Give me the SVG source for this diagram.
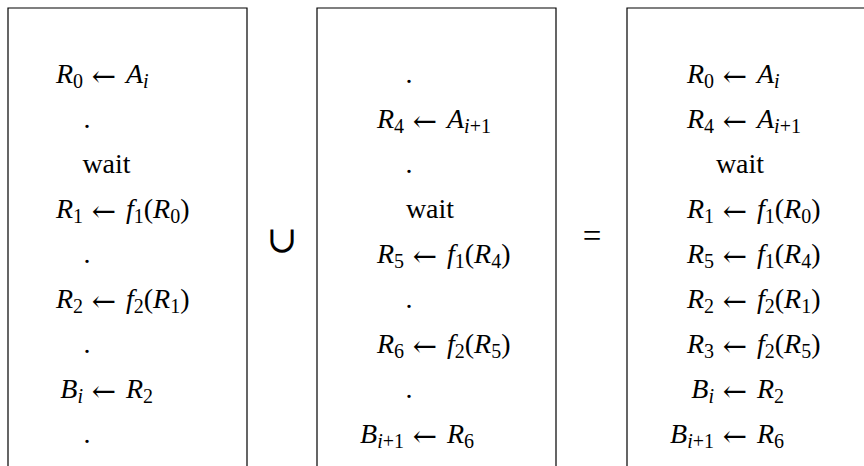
<svg xmlns="http://www.w3.org/2000/svg" width="864" height="466" viewBox="0 0 864 466">
<style>
text{font-family:'Liberation Serif','Times New Roman',serif;font-size:28px;fill:#000}
.l{text-anchor:end}
.c{text-anchor:middle}
.a{text-anchor:middle;font-family:'DejaVu Serif',serif;font-size:29px}
.i{font-style:italic}
.s{font-size:20px}
.u{text-anchor:middle;font-family:'DejaVu Serif',serif;font-size:37px}
.e{text-anchor:middle;font-size:33px}
.frame{fill:none;stroke:#000;stroke-width:1.2}
</style>
<defs>
<path id="frame" d="M0,458V0H239V458"/>
</defs>
<g id="connectors"/>
<g id="box1">
<use href="#frame" class="frame" x="8" y="8"/>
<text class="l" x="83" y="83"><tspan class="i">R</tspan><tspan class="s" dy="5">0</tspan></text>
<text class="a" x="104" y="86">←</text>
<text x="126" y="83"><tspan class="i">A</tspan><tspan class="s i" dy="5">i</tspan></text>
<text class="c" x="87" y="128">.</text>
<text class="c" x="106.5" y="173">wait</text>
<text class="l" x="83" y="218"><tspan class="i">R</tspan><tspan class="s" dy="5">1</tspan></text>
<text class="a" x="104" y="221">←</text>
<text x="126" y="218"><tspan class="i">f</tspan><tspan class="s" dy="5">1</tspan><tspan dy="-5">(</tspan><tspan class="i">R</tspan><tspan class="s" dy="5">0</tspan><tspan dy="-5">)</tspan></text>
<text class="c" x="87" y="263">.</text>
<text class="l" x="83" y="308"><tspan class="i">R</tspan><tspan class="s" dy="5">2</tspan></text>
<text class="a" x="104" y="311">←</text>
<text x="126" y="308"><tspan class="i">f</tspan><tspan class="s" dy="5">2</tspan><tspan dy="-5">(</tspan><tspan class="i">R</tspan><tspan class="s" dy="5">1</tspan><tspan dy="-5">)</tspan></text>
<text class="c" x="87" y="353">.</text>
<text class="l" x="83" y="398"><tspan class="i">B</tspan><tspan class="s i" dy="5">i</tspan></text>
<text class="a" x="104" y="401">←</text>
<text x="126" y="398"><tspan class="i">R</tspan><tspan class="s" dy="5">2</tspan></text>
<text class="c" x="87" y="443">.</text>
</g>
<g id="union">
<text class="u" x="282" y="252">∪</text>
</g>
<g id="box2">
<use href="#frame" class="frame" x="317" y="8"/>
<text class="c" x="409" y="83">.</text>
<text class="l" x="404" y="128"><tspan class="i">R</tspan><tspan class="s" dy="5">4</tspan></text>
<text class="a" x="425" y="131">←</text>
<text x="447" y="128"><tspan class="i">A</tspan><tspan class="s i" dy="5">i</tspan><tspan class="s">+1</tspan></text>
<text class="c" x="409" y="173">.</text>
<text class="c" x="430" y="218">wait</text>
<text class="l" x="404" y="263"><tspan class="i">R</tspan><tspan class="s" dy="5">5</tspan></text>
<text class="a" x="425" y="266">←</text>
<text x="447" y="263"><tspan class="i">f</tspan><tspan class="s" dy="5">1</tspan><tspan dy="-5">(</tspan><tspan class="i">R</tspan><tspan class="s" dy="5">4</tspan><tspan dy="-5">)</tspan></text>
<text class="c" x="409" y="308">.</text>
<text class="l" x="404" y="353"><tspan class="i">R</tspan><tspan class="s" dy="5">6</tspan></text>
<text class="a" x="425" y="356">←</text>
<text x="447" y="353"><tspan class="i">f</tspan><tspan class="s" dy="5">2</tspan><tspan dy="-5">(</tspan><tspan class="i">R</tspan><tspan class="s" dy="5">5</tspan><tspan dy="-5">)</tspan></text>
<text class="c" x="409" y="398">.</text>
<text class="l" x="404" y="443"><tspan class="i">B</tspan><tspan class="s i" dy="5">i</tspan><tspan class="s">+1</tspan></text>
<text class="a" x="425" y="446">←</text>
<text x="447" y="443"><tspan class="i">R</tspan><tspan class="s" dy="5">6</tspan></text>
</g>
<g id="equals">
<text class="e" x="592" y="247">=</text>
</g>
<g id="box3">
<use href="#frame" class="frame" x="627" y="8"/>
<text class="l" x="714" y="83"><tspan class="i">R</tspan><tspan class="s" dy="5">0</tspan></text>
<text class="a" x="735" y="86">←</text>
<text x="757" y="83"><tspan class="i">A</tspan><tspan class="s i" dy="5">i</tspan></text>
<text class="l" x="714" y="128"><tspan class="i">R</tspan><tspan class="s" dy="5">4</tspan></text>
<text class="a" x="735" y="131">←</text>
<text x="757" y="128"><tspan class="i">A</tspan><tspan class="s i" dy="5">i</tspan><tspan class="s">+1</tspan></text>
<text class="c" x="740" y="173">wait</text>
<text class="l" x="714" y="218"><tspan class="i">R</tspan><tspan class="s" dy="5">1</tspan></text>
<text class="a" x="735" y="221">←</text>
<text x="757" y="218"><tspan class="i">f</tspan><tspan class="s" dy="5">1</tspan><tspan dy="-5">(</tspan><tspan class="i">R</tspan><tspan class="s" dy="5">0</tspan><tspan dy="-5">)</tspan></text>
<text class="l" x="714" y="263"><tspan class="i">R</tspan><tspan class="s" dy="5">5</tspan></text>
<text class="a" x="735" y="266">←</text>
<text x="757" y="263"><tspan class="i">f</tspan><tspan class="s" dy="5">1</tspan><tspan dy="-5">(</tspan><tspan class="i">R</tspan><tspan class="s" dy="5">4</tspan><tspan dy="-5">)</tspan></text>
<text class="l" x="714" y="308"><tspan class="i">R</tspan><tspan class="s" dy="5">2</tspan></text>
<text class="a" x="735" y="311">←</text>
<text x="757" y="308"><tspan class="i">f</tspan><tspan class="s" dy="5">2</tspan><tspan dy="-5">(</tspan><tspan class="i">R</tspan><tspan class="s" dy="5">1</tspan><tspan dy="-5">)</tspan></text>
<text class="l" x="714" y="353"><tspan class="i">R</tspan><tspan class="s" dy="5">3</tspan></text>
<text class="a" x="735" y="356">←</text>
<text x="757" y="353"><tspan class="i">f</tspan><tspan class="s" dy="5">2</tspan><tspan dy="-5">(</tspan><tspan class="i">R</tspan><tspan class="s" dy="5">5</tspan><tspan dy="-5">)</tspan></text>
<text class="l" x="714" y="398"><tspan class="i">B</tspan><tspan class="s i" dy="5">i</tspan></text>
<text class="a" x="735" y="401">←</text>
<text x="757" y="398"><tspan class="i">R</tspan><tspan class="s" dy="5">2</tspan></text>
<text class="l" x="714" y="443"><tspan class="i">B</tspan><tspan class="s i" dy="5">i</tspan><tspan class="s">+1</tspan></text>
<text class="a" x="735" y="446">←</text>
<text x="757" y="443"><tspan class="i">R</tspan><tspan class="s" dy="5">6</tspan></text>
</g>
</svg>
